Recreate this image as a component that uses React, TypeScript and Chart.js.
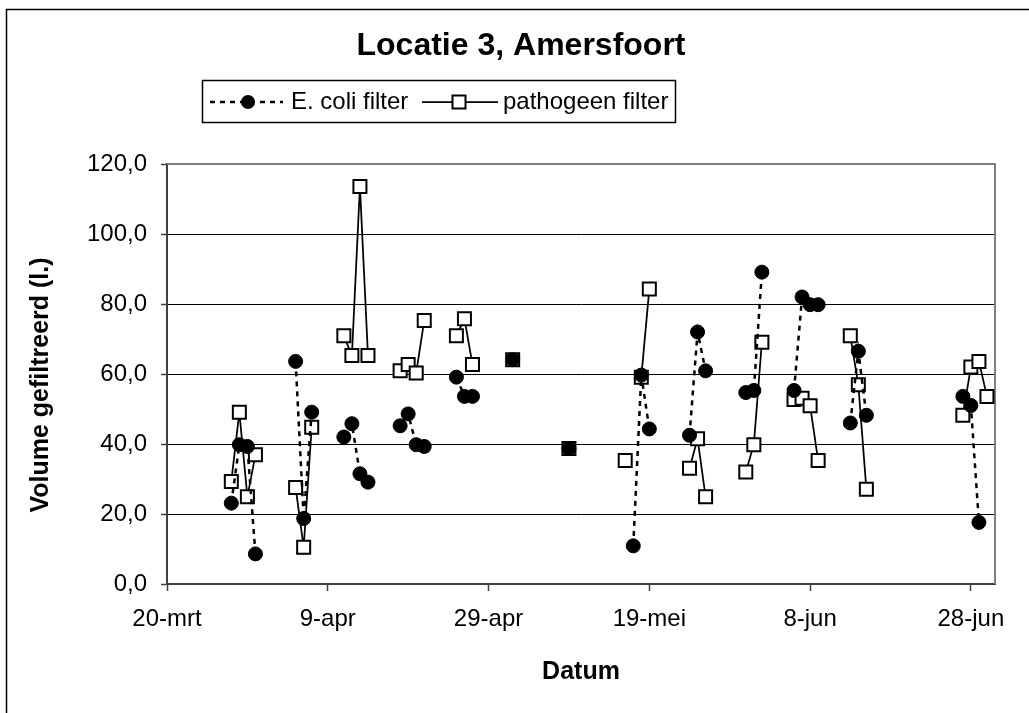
import { useEffect, useRef } from "react";
import { Chart, registerables } from "chart.js";

Chart.register(...registerables);

const chartTitle = "Locatie 3, Amersfoort";
const xAxisTitle = "Datum";
const yAxisTitle = "Volume gefiltreerd (l.)";
const seriesNames = ["E. coli filter", "pathogeen filter"];

// Sampling days, counted in days after 20 March.
const sampleDays = [
  8, 9, 10, 11, 16, 17, 18, 22, 23, 24, 25, 29, 30, 31, 32, 36, 37, 38, 43, 50,
  57, 58, 59, 60, 65, 66, 67, 72, 73, 74, 78, 79, 80, 81, 85, 86, 87, 99, 100, 101, 102,
];

// Filtered volume (litres) per sampling day; null = no sample that day.
const eColiVolumes = [
  23.1, 39.8, 39.3, 8.6, 63.6, 18.7, 49.1, 42.0, 45.8, 31.5, 29.1, 45.2, 48.6, 39.8, 39.3,
  59.1, 53.6, 53.6, 64.1, 38.7, null, 10.9, 59.7, 44.3, 42.5, 72.0, 60.9, 54.7, 55.3, 89.1,
  55.3, 82.0, 79.8, 79.8, 46.0, 66.5, 48.2, 53.6, 51.0, 17.6, null,
];
const pathogeenVolumes = [
  29.3, 49.1, 24.9, 36.9, 27.6, 10.5, 44.8, 70.9, 65.3, 113.6, 65.3, 60.9, 62.7, 60.3, 75.3,
  70.9, 75.8, 62.7, 64.1, 38.7, 35.3, null, 59.1, 84.3, 33.1, 41.5, 24.9, 32.0, 39.8, 69.1,
  52.7, 53.1, 50.9, 35.3, 70.9, 56.9, 27.1, 48.2, 62.0, 63.6, 53.6,
];

const dateTickDays = [0, 20, 40, 60, 80, 100];
const dateTickLabels = ["20-mrt", "9-apr", "29-apr", "19-mei", "8-jun", "28-jun"];
const dayAxisMax = 103;
const volumeMin = 0;
const volumeMax = 120;
const volumeStep = 20;

const FONT = "'Liberation Sans', Arial, Helvetica, sans-serif";
const W = 1029;
const H = 713;

const toPoints = (values: (number | null)[]) =>
  sampleDays.map((d, i) => ({ x: d, y: values[i] }));

// Only consecutive sampling days are joined by a line.
const hideLongGaps = {
  borderColor: (c: any) =>
    c.p1.parsed.x - c.p0.parsed.x > 1 ? "rgba(0,0,0,0)" : undefined,
};

const decorPlugin = {
  id: "decor",
  beforeDraw(chart: any) {
    const ctx = chart.ctx;
    ctx.save();
    ctx.fillStyle = "#ffffff";
    ctx.fillRect(0, 0, chart.width, chart.height);
    // outer chart frame (continues past the canvas edges)
    ctx.strokeStyle = "#000000";
    ctx.lineWidth = 1.5;
    ctx.strokeRect(6.5, 9.5, chart.width + 40, chart.height + 40);
    ctx.restore();
  },
  beforeDatasetsDraw(chart: any) {
    const ctx = chart.ctx;
    const { left, top, right, bottom } = chart.chartArea;
    ctx.save();
    ctx.strokeStyle = "#808080";
    ctx.lineWidth = 2;
    ctx.beginPath();
    ctx.moveTo(left, top);
    ctx.lineTo(right, top);
    ctx.lineTo(right, bottom);
    ctx.stroke();
    ctx.restore();
  },
  afterDraw(chart: any) {
    const ctx = chart.ctx;
    const { left, right } = chart.chartArea;
    ctx.save();
    ctx.fillStyle = "#000000";

    // title
    ctx.font = `bold 32px ${FONT}`;
    ctx.textAlign = "center";
    ctx.textBaseline = "alphabetic";
    ctx.fillText(chartTitle, 521, 55);

    // axis titles
    ctx.font = `bold 25px ${FONT}`;
    ctx.textBaseline = "middle";
    ctx.fillText(xAxisTitle, (left + right) / 2, 672);
    ctx.save();
    ctx.translate(41, 385);
    ctx.rotate(-Math.PI / 2);
    ctx.fillText(yAxisTitle, 0, 0);
    ctx.restore();

    // legend box
    const ly = 102;
    ctx.strokeStyle = "#000000";
    ctx.lineWidth = 1.5;
    ctx.strokeRect(202.5, 80.5, 473, 42);

    // E. coli sample: dashed line with filled circle
    ctx.lineWidth = 2.5;
    ctx.setLineDash([5, 5]);
    ctx.beginPath();
    ctx.moveTo(210, ly);
    ctx.lineTo(283, ly);
    ctx.stroke();
    ctx.setLineDash([]);
    ctx.beginPath();
    ctx.arc(248, ly, 7, 0, Math.PI * 2);
    ctx.fill();

    // pathogeen sample: solid line with open square
    ctx.lineWidth = 1.75;
    ctx.beginPath();
    ctx.moveTo(422, ly);
    ctx.lineTo(498, ly);
    ctx.stroke();
    ctx.fillStyle = "#ffffff";
    ctx.fillRect(452.5, ly - 6.5, 13, 13);
    ctx.lineWidth = 2;
    ctx.strokeRect(452.5, ly - 6.5, 13, 13);

    ctx.fillStyle = "#000000";
    ctx.font = `24px ${FONT}`;
    ctx.textAlign = "left";
    ctx.textBaseline = "middle";
    ctx.fillText(seriesNames[0], 291, ly);
    ctx.fillText(seriesNames[1], 503, ly);
    ctx.restore();
  },
};

export default function App() {
  const canvasRef = useRef<HTMLCanvasElement | null>(null);

  useEffect(() => {
    const canvas = canvasRef.current;
    if (!canvas) return;
    const chart = new Chart(canvas, {
      type: "line",
      data: {
        datasets: [
          {
            label: seriesNames[0],
            data: toPoints(eColiVolumes),
            borderColor: "#000000",
            borderWidth: 2.5,
            borderDash: [5, 5],
            pointStyle: "circle",
            pointRadius: 7,
            pointBackgroundColor: "#000000",
            pointBorderColor: "#000000",
            pointBorderWidth: 1,
            spanGaps: false,
            segment: hideLongGaps,
            tension: 0,
          },
          {
            label: seriesNames[1],
            data: toPoints(pathogeenVolumes),
            borderColor: "#000000",
            borderWidth: 1.75,
            pointStyle: "rect",
            pointRadius: 9.2,
            pointBackgroundColor: "#ffffff",
            pointBorderColor: "#000000",
            pointBorderWidth: 2,
            spanGaps: false,
            segment: hideLongGaps,
            tension: 0,
          },
        ],
      },
      options: {
        animation: false,
        responsive: false,
        devicePixelRatio: 1,
        layout: { padding: { left: 0, top: 164, right: 34, bottom: 0 } },
        plugins: {
          legend: { display: false },
          title: { display: false },
          tooltip: { enabled: false },
        },
        scales: {
          x: {
            type: "linear",
            min: 0,
            max: dayAxisMax,
            afterBuildTicks: (axis: any) => {
              axis.ticks = dateTickDays.map((v) => ({ value: v }));
            },
            afterFit: (scale: any) => {
              scale.height = H - 584;
            },
            ticks: {
              callback: (v: any) => dateTickLabels[dateTickDays.indexOf(Number(v))] ?? "",
              font: { family: FONT, size: 24 },
              color: "#000000",
              padding: 14,
              maxRotation: 0,
              autoSkip: false,
            },
            grid: {
              drawOnChartArea: false,
              drawTicks: true,
              tickLength: 7,
              tickColor: "#404040",
              tickWidth: 1.5,
            },
            border: { display: true, color: "#404040", width: 2 },
          },
          y: {
            type: "linear",
            min: volumeMin,
            max: volumeMax,
            afterFit: (scale: any) => {
              scale.width = 167;
            },
            ticks: {
              stepSize: volumeStep,
              callback: (v: any) => Number(v).toFixed(1).replace(".", ","),
              font: { family: FONT, size: 24 },
              color: "#000000",
              padding: 14,
            },
            grid: {
              color: "#000000",
              lineWidth: 1,
              drawTicks: true,
              tickLength: 6,
              tickColor: "#404040",
              tickWidth: 1.5,
            },
            border: { display: true, color: "#404040", width: 2 },
          },
        },
      },
      plugins: [decorPlugin],
    } as any);
    return () => chart.destroy();
  }, []);

  return (
    <div style={{ position: "absolute", left: 0, top: 0, width: W, height: H, overflow: "hidden" }}>
      <canvas ref={canvasRef} width={W} height={H} style={{ display: "block" }} />
    </div>
  );
}
